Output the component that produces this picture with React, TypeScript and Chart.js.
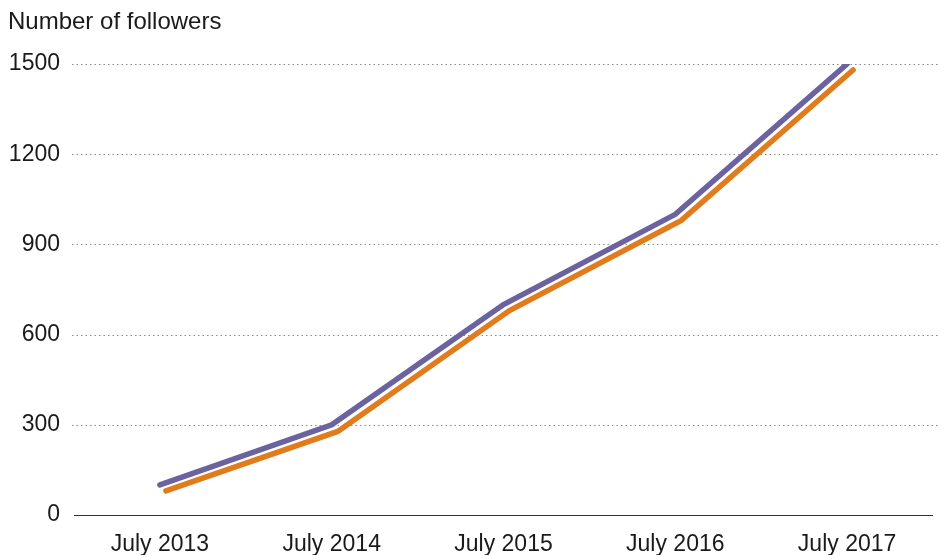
import React, { useEffect, useRef } from "react";
import { Chart, registerables } from "chart.js";

Chart.register(...registerables);

const categories = ["July 2013", "July 2014", "July 2015", "July 2016", "July 2017"];
const purpleValues = [100, 300, 700, 1000, 1500];
const orangeValues = [80, 278, 680, 980, 1480];
const yTicks = [0, 300, 600, 900, 1200, 1500];
const titleText = "Number of followers";

const FONT = "'Liberation Sans', Arial, Helvetica, sans-serif";
const FONT_SIZE = 23;

export default function App() {
  const ref = useRef<HTMLCanvasElement | null>(null);

  useEffect(() => {
    document.body.style.margin = "0";
    const canvas = ref.current;
    if (!canvas) return;

    const decor = {
      id: "decor",
      beforeDatasetsDraw(chart: any) {
        const { ctx, chartArea, scales } = chart;
        const y = scales.y;
        ctx.save();
        ctx.strokeStyle = "#8a8a8a";
        ctx.lineWidth = 1;
        ctx.setLineDash([1.5, 3]);
        yTicks.forEach((v) => {
          if (v === 0) return;
          const py = Math.round(y.getPixelForValue(v)) + 0.5;
          ctx.beginPath();
          ctx.moveTo(chartArea.left - 2, py);
          ctx.lineTo(chart.width, py);
          ctx.stroke();
        });
        ctx.setLineDash([]);
        const by = Math.round(y.getPixelForValue(0)) + 0.5;
        ctx.strokeStyle = "#333";
        ctx.lineWidth = 1.2;
        ctx.beginPath();
        ctx.moveTo(chartArea.left, by);
        ctx.lineTo(chartArea.right, by);
        ctx.stroke();
        ctx.fillStyle = "#1a1a1a";
        ctx.font = `24px ${FONT}`;
        ctx.textAlign = "left";
        ctx.textBaseline = "middle";
        ctx.fillText(titleText, 8, 22);
        ctx.restore();
      },
      beforeDatasetDraw(chart: any, args: any) {
        if (args.index === 0) {
          chart.ctx.save();
          chart.ctx.translate(6, 0);
        }
      },
      afterDatasetDraw(chart: any, args: any) {
        if (args.index === 0) chart.ctx.restore();
      },
    };

    const chart = new Chart(canvas, {
      type: "line",
      data: {
        labels: categories,
        datasets: [
          {
            label: "Orange",
            data: orangeValues,
            borderColor: "#e07c1c",
            borderWidth: 5.5,
            borderCapStyle: "round",
            borderJoinStyle: "miter",
            pointRadius: 0,
            tension: 0,
            fill: false,
          },
          {
            label: "Purple",
            data: purpleValues,
            borderColor: "#6b639f",
            borderWidth: 5.5,
            borderCapStyle: "round",
            borderJoinStyle: "miter",
            pointRadius: 0,
            tension: 0,
            fill: false,
          },
        ],
      },
      options: {
        responsive: false,
        animation: false,
        layout: { padding: { top: 64, right: 7, left: 0, bottom: 0 } },
        plugins: {
          legend: { display: false },
          tooltip: { enabled: false },
          title: { display: false },
        },
        scales: {
          x: {
            type: "category",
            offset: true,
            grid: { display: false, drawTicks: false },
            border: { display: false },
            ticks: {
              color: "#1a1a1a",
              font: { family: FONT, size: FONT_SIZE },
              padding: 16,
              maxRotation: 0,
              autoSkip: false,
            },
            afterFit(scale: any) {
              scale.height = 40;
            },
          },
          y: {
            min: 0,
            max: 1500,
            afterBuildTicks(scale: any) {
              scale.ticks = yTicks.map((v) => ({ value: v }));
            },
            grid: { display: false, drawTicks: false },
            border: { display: false },
            ticks: {
              color: "#1a1a1a",
              font: { family: FONT, size: FONT_SIZE },
              padding: 14,
              callback: (v: any) => String(v),
            },
            afterFit(scale: any) {
              scale.width = 74;
            },
          },
        },
      },
      plugins: [decor],
    } as any);

    return () => chart.destroy();
  }, []);

  return (
    <div style={{ width: 940, height: 555 }}>
      <canvas ref={ref} width={940} height={555} style={{ display: "block" }} />
    </div>
  );
}
